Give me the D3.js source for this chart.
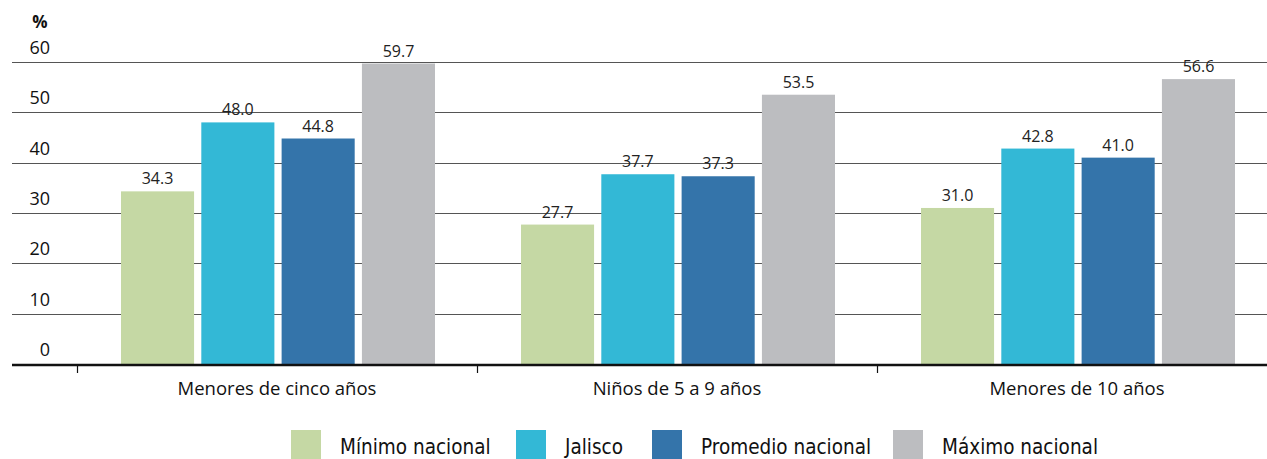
<!DOCTYPE html>
<html lang="es">

<head>
    <meta charset="utf-8">
    <script src='https://d3js.org/d3.v7.min.js'></script>
    <style>
        body { margin: 0; background: #fff; }
    </style>
</head>

<body>
    <div class="chart"></div>

    <script>
        // Datos
        const categories = ["Menores de cinco años", "Niños de 5 a 9 años", "Menores de 10 años"];
        const seriesNames = ["Mínimo nacional", "Jalisco", "Promedio nacional", "Máximo nacional"];
        const minimo = [34.3, 27.7, 31.0];
        const jalisco = [48.0, 37.7, 42.8];
        const promedio = [44.8, 37.3, 41.0];
        const maximo = [59.7, 53.5, 56.6];
        const yTicks = [0, 10, 20, 30, 40, 50, 60];
        const colors = ["#c5d8a4", "#33b8d6", "#3474aa", "#bcbdc0"];

        const seriesValues = [minimo, jalisco, promedio, maximo];

        const width = 1267;
        const height = 459;
        const font = "'Open Sans', 'Noto Sans', sans-serif";

        const svg = d3.select(".chart")
            .append("svg")
            .attr("width", width)
            .attr("height", height)
            .style("font-family", font);

        // escalas
        const x0 = d3.scaleBand()
            .domain(categories)
            .range([77, 1277])
            .paddingInner(0)
            .paddingOuter(0);

        const x1 = d3.scaleBand()
            .domain(seriesNames)
            .range([44, 358])
            .paddingInner(0.09)
            .paddingOuter(0);

        const y = d3.scaleLinear()
            .domain([0, 60])
            .range([364, 62]);

        // gridlines
        svg.append("g")
            .selectAll("line")
            .data(yTicks.filter(d => d > 0))
            .join("line")
            .attr("x1", 12)
            .attr("x2", width)
            .attr("y1", d => Math.round(y(d)) + 0.5)
            .attr("y2", d => Math.round(y(d)) + 0.5)
            .attr("stroke", "#555")
            .attr("stroke-width", 1);

        // tick labels
        svg.append("g")
            .selectAll("text")
            .data(yTicks)
            .join("text")
            .attr("x", 50)
            .attr("y", d => y(d) - 8)
            .attr("text-anchor", "end")
            .attr("font-size", 18)
            .attr("fill", "#111")
            .text(d => d);

        svg.append("text")
            .attr("x", 40)
            .attr("y", 28)
            .attr("text-anchor", "middle")
            .attr("font-size", 17)
            .attr("font-weight", "bold")
            .attr("fill", "#111")
            .text("%");

        // barras
        const groups = svg.append("g")
            .selectAll("g")
            .data(categories)
            .join("g")
            .attr("transform", d => `translate(${x0(d)},0)`);

        groups.selectAll("rect")
            .data((d, i) => seriesNames.map((s, j) => ({ s: s, v: seriesValues[j][i], c: colors[j] })))
            .join("rect")
            .attr("x", d => x1(d.s))
            .attr("width", x1.bandwidth())
            .attr("y", d => y(d.v))
            .attr("height", d => y(0) - y(d.v))
            .attr("fill", d => d.c);

        groups.selectAll("text")
            .data((d, i) => seriesNames.map((s, j) => ({ s: s, v: seriesValues[j][i] })))
            .join("text")
            .attr("x", d => x1(d.s) + x1.bandwidth() / 2)
            .attr("y", d => y(d.v) - 7)
            .attr("text-anchor", "middle")
            .attr("font-size", 16)
            .attr("fill", "#222")
            .text(d => d.v.toFixed(1));

        // eje x
        const xAxis = svg.append("g");
        xAxis.append("line")
            .attr("x1", 12)
            .attr("x2", width)
            .attr("y1", 365)
            .attr("y2", 365)
            .attr("stroke", "#111")
            .attr("stroke-width", 2.5);

        xAxis.selectAll(".tick")
            .data(categories)
            .join("line")
            .attr("class", "tick")
            .attr("x1", d => x0(d) + 0.5)
            .attr("x2", d => x0(d) + 0.5)
            .attr("y1", 365)
            .attr("y2", 373)
            .attr("stroke", "#111")
            .attr("stroke-width", 1.2);

        xAxis.selectAll(".lbl")
            .data(categories)
            .join("text")
            .attr("class", "lbl")
            .attr("x", d => x0(d) + x0.bandwidth() / 2)
            .attr("y", 395)
            .attr("text-anchor", "middle")
            .attr("font-size", 18.5)
            .attr("fill", "#111")
            .text(d => d);

        // leyenda
        const legendX = [291, 516, 652, 893];
        const legend = svg.append("g")
            .selectAll("g")
            .data(seriesNames)
            .join("g")
            .attr("transform", (d, i) => `translate(${legendX[i]},430)`);

        legend.append("rect")
            .attr("width", 30)
            .attr("height", 30)
            .attr("fill", (d, i) => colors[i]);

        legend.append("text")
            .attr("x", 49)
            .attr("y", 24)
            .attr("font-size", 20.5)
            .attr("font-family", "'DejaVu Sans Condensed', 'DejaVu Sans', sans-serif")
            .attr("fill", "#111")
            .text(d => d);
    </script>
</body>

</html>
